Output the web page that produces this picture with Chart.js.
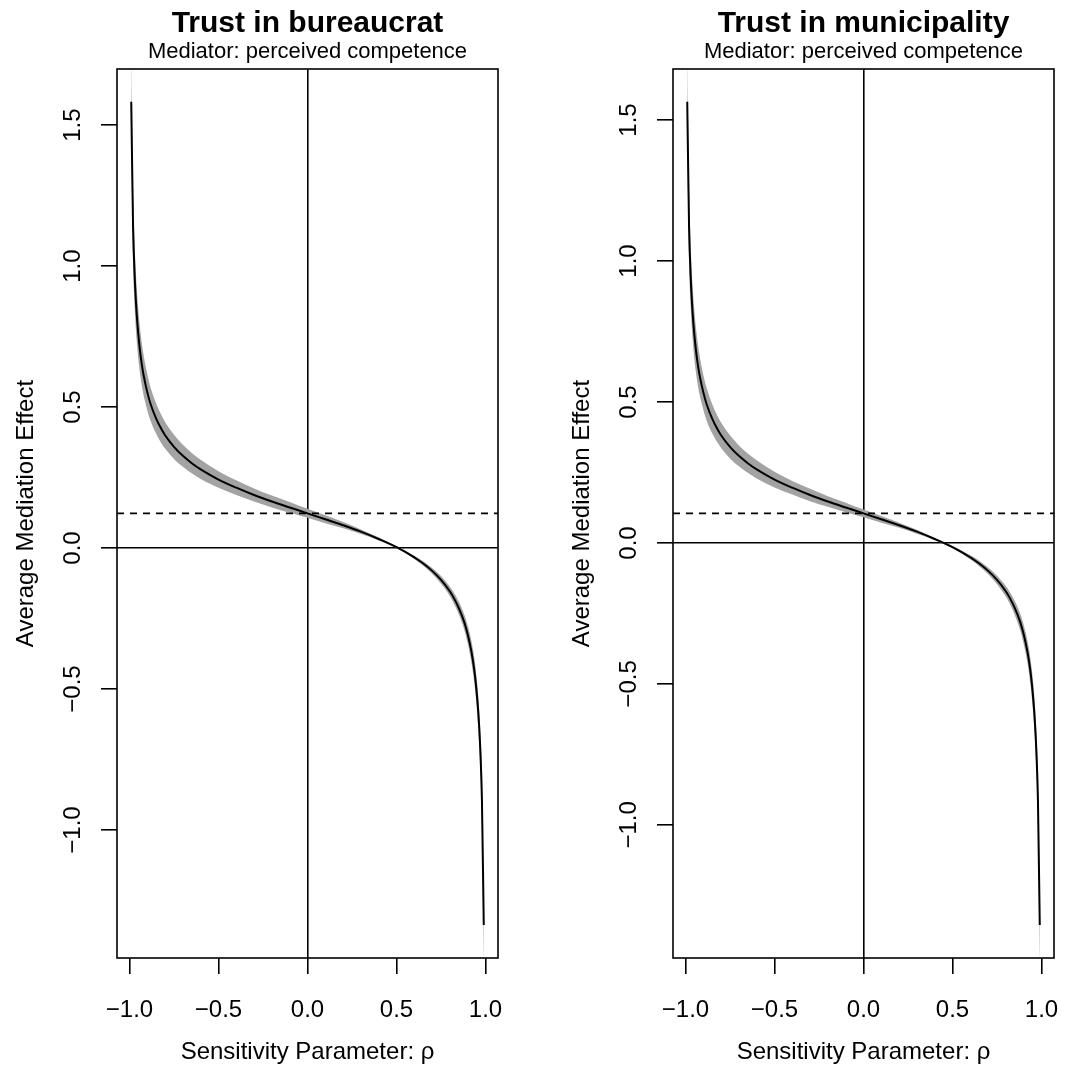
<!DOCTYPE html>
<html>
<head>
<meta charset="utf-8">
<script src="https://cdn.jsdelivr.net/npm/chart.js@4.4.1/dist/chart.umd.min.js"></script>
<style>
  body { margin: 0; background: #fff; width: 1067px; height: 1068px; position: relative; overflow: hidden; }
  canvas { position: absolute; top: 0; }
</style>
</head>
<body>
<canvas id="bureaucrat" width="534" height="1068" style="left:0px"></canvas>
<canvas id="municipality" width="533" height="1068" style="left:534px"></canvas>
<script>
// sensitivity parameter rho
const rho = [-0.99, -0.98, -0.97, -0.96, -0.95, -0.94, -0.93, -0.92, -0.90, -0.88, -0.85, -0.82, -0.80,
  -0.75, -0.70, -0.65, -0.60, -0.50, -0.40, -0.30, -0.20, -0.10, 0, 0.10, 0.20, 0.30, 0.40, 0.50,
  0.60, 0.65, 0.70, 0.75, 0.80, 0.82, 0.85, 0.88, 0.90, 0.92, 0.93, 0.94, 0.95, 0.96, 0.97, 0.98, 0.99];

// average mediation effect, left panel
const acmeBureaucrat = [1.583, 1.147, 0.953, 0.836, 0.756, 0.696, 0.649, 0.611, 0.553, 0.508, 0.459, 0.421, 0.400,
  0.359, 0.327, 0.301, 0.279, 0.243, 0.214, 0.188, 0.165, 0.144, 0.123, 0.102, 0.081, 0.058, 0.032, 0.003,
  -0.033, -0.055, -0.081, -0.113, -0.154, -0.175, -0.213, -0.262, -0.307, -0.365, -0.403, -0.450, -0.510, -0.590, -0.707, -0.901, -1.337];
// half width of the confidence band, left panel
const ciHalfBureaucrat = [0.180, 0.131, 0.110, 0.096, 0.087, 0.080, 0.075, 0.071, 0.065, 0.059, 0.054, 0.050, 0.047,
  0.043, 0.039, 0.036, 0.034, 0.029, 0.026, 0.023, 0.021, 0.019, 0.016, 0.014, 0.011, 0.008, 0.005, 0.003,
  0.006, 0.008, 0.010, 0.014, 0.017, 0.019, 0.023, 0.027, 0.032, 0.038, 0.041, 0.046, 0.051, 0.059, 0.070, 0.089, 0.130];

// right panel
const acmeMunicipality = [1.565, 1.129, 0.935, 0.818, 0.738, 0.678, 0.631, 0.593, 0.535, 0.490, 0.441, 0.403, 0.382,
  0.341, 0.309, 0.283, 0.261, 0.225, 0.196, 0.170, 0.147, 0.126, 0.105, 0.084, 0.063, 0.040, 0.014, -0.015,
  -0.051, -0.073, -0.099, -0.131, -0.172, -0.193, -0.231, -0.280, -0.325, -0.383, -0.421, -0.468, -0.528, -0.608, -0.725, -0.919, -1.355];
const ciHalfMunicipality = [0.179, 0.129, 0.107, 0.095, 0.086, 0.079, 0.074, 0.069, 0.062, 0.058, 0.052, 0.047, 0.045,
  0.041, 0.037, 0.034, 0.032, 0.028, 0.024, 0.022, 0.019, 0.017, 0.014, 0.012, 0.009, 0.007, 0.004, 0.004,
  0.007, 0.010, 0.012, 0.015, 0.019, 0.021, 0.025, 0.030, 0.034, 0.039, 0.043, 0.047, 0.053, 0.061, 0.072, 0.090, 0.133];

// estimated ACME (dashed line)
const estBureaucrat = 0.123;
const estMunicipality = 0.105;

const xTicks = [-1, -0.5, 0, 0.5, 1];
const yTicks = [-1, -0.5, 0, 0.5, 1, 1.5];
const xLimits = [-1.07, 1.07];
const yLimitsBureaucrat = [-1.454, 1.699];
const yLimitsMunicipality = [-1.472, 1.681];

const FONT = '"Liberation Sans", Arial, Helvetica, sans-serif';
const fmt = v => v.toFixed(1).replace('-', '\u2212');

// R style frame, titles and tick labels
const rChrome = {
  id: 'rChrome',
  afterDraw(chart, args, o) {
    const { ctx, chartArea: a, scales } = chart;
    const cx = (a.left + a.right) / 2, cy = (a.top + a.bottom) / 2;
    ctx.save();
    ctx.strokeStyle = '#000';
    ctx.lineWidth = 1.6;
    ctx.strokeRect(a.left, a.top, a.right - a.left, a.bottom - a.top);
    ctx.fillStyle = '#000';
    ctx.textAlign = 'center';
    ctx.textBaseline = 'alphabetic';
    ctx.font = 'bold 30px ' + FONT;
    ctx.fillText(o.title, cx, 32);
    ctx.font = '22px ' + FONT;
    ctx.fillText(o.subtitle, cx, 58);
    ctx.font = '24px ' + FONT;
    scales.x.ticks.forEach(t => ctx.fillText(fmt(t.value), scales.x.getPixelForValue(t.value), a.bottom + 59));
    ctx.fillText('Sensitivity Parameter: \u03c1', cx, a.bottom + 101);
    scales.y.ticks.forEach(t => {
      ctx.save();
      ctx.translate(a.left - 37, scales.y.getPixelForValue(t.value));
      ctx.rotate(-Math.PI / 2);
      ctx.fillText(fmt(t.value), 0, 0);
      ctx.restore();
    });
    ctx.save();
    ctx.translate(a.left - 84, cy);
    ctx.rotate(-Math.PI / 2);
    ctx.fillText('Average Mediation Effect', 0, 0);
    ctx.restore();
    ctx.restore();
  }
};

function makePanel(id, acme, half, est, yLim, title, pad) {
  const line = rho.map((r, i) => ({ x: r, y: acme[i] }));
  const upper = rho.map((r, i) => ({ x: r, y: acme[i] + half[i] }));
  const lower = rho.map((r, i) => ({ x: r, y: acme[i] - half[i] }));
  const zeroOnly = c => (c.tick && c.tick.value === 0) ? '#000' : 'rgba(0,0,0,0)';
  return new Chart(document.getElementById(id), {
    type: 'line',
    data: {
      datasets: [
        { data: upper, order: 3, borderWidth: 0, pointRadius: 0, fill: '+1', backgroundColor: '#a3a3a3', cubicInterpolationMode: 'monotone' },
        { data: lower, order: 3, borderWidth: 0, pointRadius: 0, fill: false, cubicInterpolationMode: 'monotone' },
        { data: line, order: 1, borderColor: '#000', borderWidth: 2, pointRadius: 0, fill: false, cubicInterpolationMode: 'monotone' },
        { data: [{ x: xLimits[0], y: est }, { x: xLimits[1], y: est }], order: 0, borderColor: '#000', borderWidth: 1.6,
          borderDash: [7, 6], pointRadius: 0, fill: false }
      ]
    },
    options: {
      responsive: false,
      animation: false,
      devicePixelRatio: 1,
      layout: { padding: pad },
      plugins: {
        legend: { display: false },
        tooltip: { enabled: false },
        rChrome: { title: title, subtitle: 'Mediator: perceived competence' }
      },
      scales: {
        x: {
          type: 'linear', min: xLimits[0], max: xLimits[1],
          afterBuildTicks: s => { s.ticks = xTicks.map(v => ({ value: v })); },
          afterFit: s => { s.height = 16; },
          ticks: { display: false },
          border: { display: false },
          grid: { color: zeroOnly, lineWidth: 1.6, tickColor: '#000', tickWidth: 1.6, tickLength: 16 }
        },
        y: {
          type: 'linear', min: yLim[0], max: yLim[1],
          afterBuildTicks: s => { s.ticks = yTicks.map(v => ({ value: v })); },
          afterFit: s => { s.width = 16; },
          ticks: { display: false },
          border: { display: false },
          grid: { color: zeroOnly, lineWidth: 1.6, tickColor: '#000', tickWidth: 1.6, tickLength: 16 }
        }
      }
    },
    plugins: [rChrome]
  });
}

makePanel('bureaucrat', acmeBureaucrat, ciHalfBureaucrat, estBureaucrat, yLimitsBureaucrat,
  'Trust in bureaucrat', { left: 101, right: 36, top: 69, bottom: 94 });
makePanel('municipality', acmeMunicipality, ciHalfMunicipality, estMunicipality, yLimitsMunicipality,
  'Trust in municipality', { left: 123, right: 13, top: 69, bottom: 94 });
</script>
</body>
</html>
